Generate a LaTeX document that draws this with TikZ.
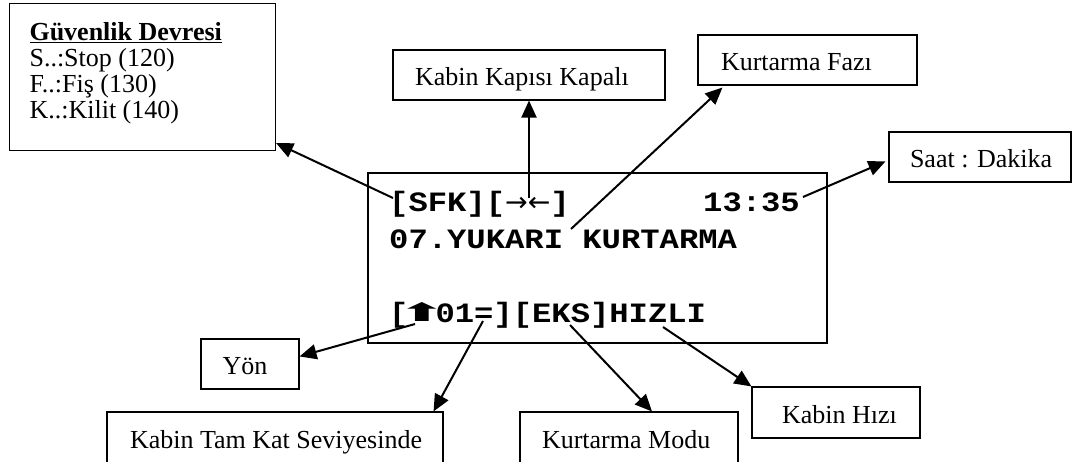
\documentclass[tikz,border=0pt]{standalone}
\usepackage{fontspec}
\usepackage{graphicx}
\setmainfont{Liberation Serif}
\newfontfamily\lcdfont[FakeStretch=1.15]{Liberation Mono}
\newfontfamily\symfont{DejaVu Sans}
\usetikzlibrary{arrows.meta}
\begin{document}
\begin{tikzpicture}[x=1pt,y=-1pt,
  box/.style={draw, line width=1.1pt, inner ysep=0pt, minimum height=50pt,
    text height=22pt, text depth=1pt, font=\fontsize{26}{26}\selectfont},
  disp/.style={draw, line width=2.5pt, inner sep=0pt, minimum width=459pt, minimum height=170pt},
  lcd/.style={inner sep=0pt, anchor=base west, font=\lcdfont\bfseries\fontsize{28}{37}\selectfont},
  conn/.style={line width=2pt, -{Triangle[length=17pt,width=15pt]}}]
\useasboundingbox (0,0) rectangle (1075,461);

% label boxes
\node[draw, line width=1.1pt, inner xsep=20pt, inner ysep=0pt, anchor=north west,
      font=\fontsize{26}{26}\selectfont] (guv) at (9,3)
  {\parbox[c][147pt][t]{226pt}{\vspace*{19pt}\textbf{\underline{Güvenlik Devresi}}\\S..:Stop (120)\\F..:Fiş (130)\\K..:Kilit (140)}};
\node[box, inner xsep=22pt] (kk) at (529,75) {\makebox[228pt][l]{Kabin Kapısı Kapalı}};
\node[box, inner xsep=23pt] (kf) at (807.5,60) {\makebox[173pt][l]{Kurtarma Fazı}};
\node[box, inner xsep=21pt] (sd) at (980,157) {\makebox[140pt][l]{Saat : Dakika}};
\node[box, inner xsep=21.5pt] (yon) at (250,364) {\makebox[55pt][l]{Yön}};
\node[box, inner xsep=23pt, minimum height=51pt] (tam) at (275,437.5) {\makebox[290pt][l]{Kabin Tam Kat Seviyesinde}};
\node[box, inner xsep=22pt, minimum height=51pt] (mod) at (629,437.5) {\makebox[174pt][l]{Kurtarma Modu}};
\node[box, inner xsep=30pt, minimum height=51pt] (hiz) at (836,412.5) {\makebox[108pt][l]{Kabin Hızı}};

% display
\node[disp] (lcdbox) at (597.5,258) {};
\node[lcd] (l1) at (389,211) {[SFK][{\symfont\mdseries\fontsize{27}{27}\selectfont →←}]};
\node[lcd, anchor=base east] (l1r) at (800,211) {13:35};
\node[lcd] (l2) at (389,248) {07.YUKARI KURTARMA};
\node[lcd] (l3) at (389,322) {[\makebox[27pt]{\raisebox{1pt}{\scalebox{2.5}[1.15]{\symfont\fontsize{22}{22}\selectfont ⬆}}}01=][EKS]HIZLI};

% connector start points
\coordinate (sGuv) at (393,198);
\coordinate (sKK) at (529,198);
\coordinate (sKF) at (571,229);
\coordinate (sSD) at (803,197);
\coordinate (sYon) at (415,324);
\coordinate (sTam) at (483,321);
\coordinate (sMod) at (570,325);
\coordinate (sHiz) at (663,327);

\draw[conn] (sGuv) -- ([yshift=8pt]guv.south east);
\draw[conn] (sKK) -- (sKK |- kk.south);
\draw[conn] (sKF) -- ([xshift=25pt,yshift=-2pt]kf.south west);
\draw[conn] (sSD) -- ([xshift=-3pt,yshift=-30pt]sd.north west);
\draw[conn] (sYon) -- ([yshift=-18pt]yon.north east);
\draw[conn] (sTam) -- ([xshift=-10pt]tam.north east);
\draw[conn] (sMod) -- ([xshift=23pt]mod.north);
\draw[conn] (sHiz) -- (hiz.north west);
\end{tikzpicture}
\end{document}
